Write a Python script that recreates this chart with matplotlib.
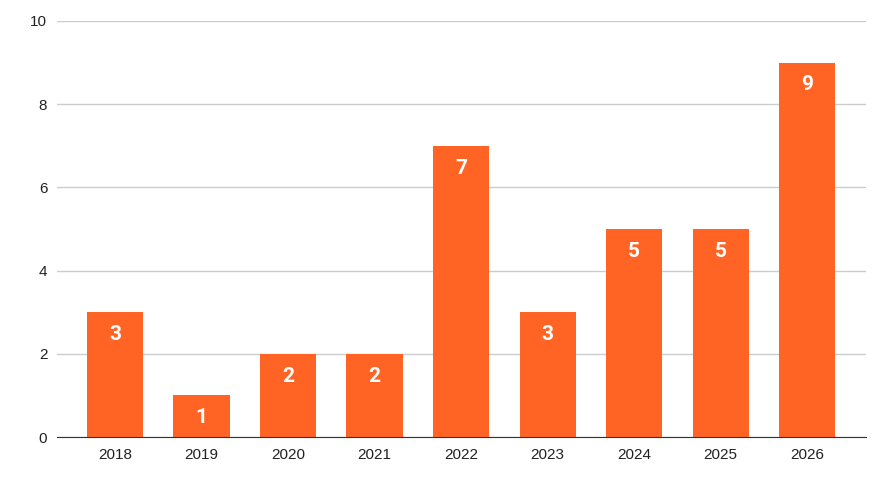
import matplotlib.pyplot as plt
import numpy as np

years = ['2018', '2019', '2020', '2021', '2022', '2023', '2024', '2025', '2026']
counts = [3, 1, 2, 2, 7, 3, 5, 5, 9]

plt.rcParams['font.family'] = ['Liberation Sans', 'DejaVu Sans']

fig = plt.figure(figsize=(8.91, 4.86), dpi=100)
ax = fig.add_axes([0.064, 0.1008, 0.908, 0.856])

x = np.arange(len(years))
bars = ax.bar(x, counts, width=0.65, color='#FF6424', zorder=3)

# value labels inside the top of each bar
for b, v in zip(bars, counts):
    ax.annotate(str(v), (b.get_x() + b.get_width() / 2, v), xytext=(0, -16),
                textcoords='offset points', ha='center', va='center',
                color='white', fontsize=15, fontweight='bold',
                family=['Roboto', 'DejaVu Sans'], zorder=4)

ax.set_xlim(-0.67, 8.68)
ax.set_ylim(0, 10)
ax.set_yticks([0, 2, 4, 6, 8, 10])
ax.set_xticks(x)
ax.set_xticklabels(years)
ax.tick_params(axis='both', length=0, labelsize=11, colors='#222222')
ax.tick_params(axis='y', pad=7)
ax.tick_params(axis='x', pad=8)
ax.grid(axis='y', color='#cccccc', linewidth=1, zorder=0)
for s in ['top', 'right', 'left']:
    ax.spines[s].set_visible(False)
ax.spines['bottom'].set_color('#333333')
ax.spines['bottom'].set_zorder(5)

fig.savefig('out.png', dpi=100)
